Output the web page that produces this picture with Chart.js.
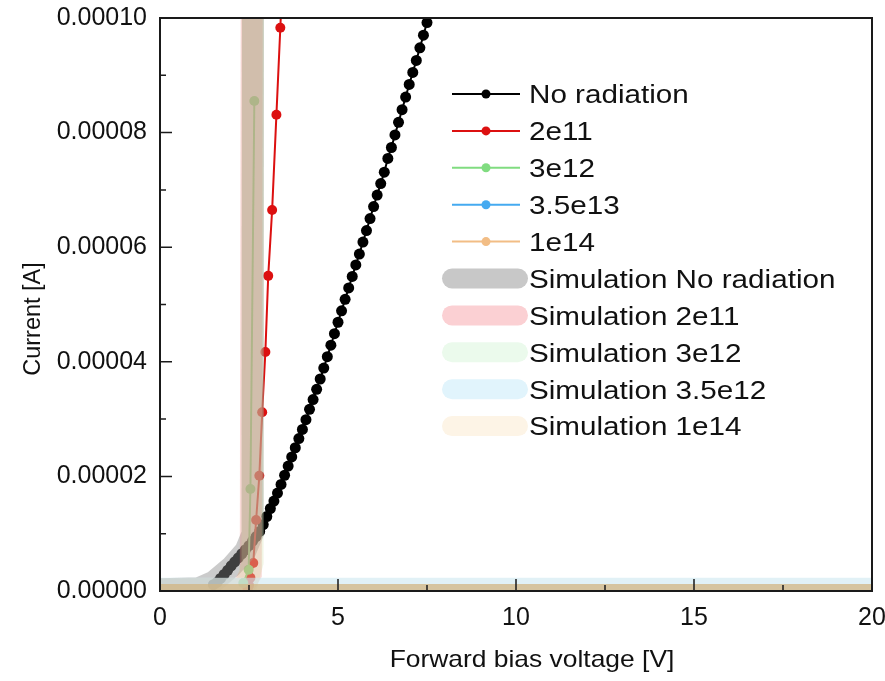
<!DOCTYPE html>
<html>
<head>
<meta charset="utf-8">
<title>Forward bias I-V</title>
<script src="https://cdn.jsdelivr.net/npm/chart.js@4.4.1/dist/chart.umd.min.js"></script>
<style>
  body { margin: 0; background: #fff; }
  canvas { display: block; }
</style>
</head>
<body>
<canvas id="ivChart" width="885" height="681"></canvas>
<script>
// Measured curves (voltage in V, current in microamps)
const voltNoRad = [1.5, 1.6, 1.7, 1.8, 1.9, 2.0, 2.1, 2.2, 2.3, 2.4,
                   2.5, 2.6, 2.7, 2.8, 2.9, 3.0, 3.1, 3.2, 3.3, 3.4,
                   3.5, 3.6, 3.7, 3.8, 3.9, 4.0, 4.1, 4.2, 4.3, 4.4,
                   4.5, 4.6, 4.7, 4.8, 4.9, 5.0, 5.1, 5.2, 5.3, 5.4,
                   5.5, 5.6, 5.7, 5.8, 5.9, 6.0, 6.1, 6.2, 6.3, 6.4,
                   6.5, 6.6, 6.7, 6.8, 6.9, 7.0, 7.1, 7.2, 7.3, 7.4, 7.5];
const currNoRad = [1.1, 1.5, 2.2, 2.9, 3.6, 4.4, 5.1, 5.8, 6.5, 7.2,
                   7.9, 8.7, 9.5, 10.4, 11.6, 13.0, 14.4, 15.7, 17.1, 18.6,
                   20.2, 21.8, 23.4, 25.0, 26.6, 28.2, 29.9, 31.7, 33.4, 35.2,
                   37.0, 38.9, 40.9, 42.9, 44.9, 46.9, 48.9, 50.9, 52.9, 54.9,
                   56.9, 58.8, 60.9, 62.9, 65.0, 67.1, 69.1, 71.1, 73.1, 75.5,
                   77.4, 79.6, 81.8, 84.0, 86.2, 88.4, 90.5, 92.6, 94.8, 97.0, 99.2];

const volt2e11 = [2.46, 2.50, 2.54, 2.62, 2.70, 2.79, 2.87, 2.96, 3.04, 3.15, 3.27, 3.38, 3.49];
const curr2e11 = [0.4, 1.0, 2.3, 4.9, 12.4, 20.1, 31.2, 41.7, 55.0, 66.5, 83.1, 98.3, 114.5];

const volt3e12 = [2.34, 2.49, 2.54, 2.65];
const curr3e12 = [1.4, 3.7, 17.8, 85.5];

const volt35e13 = [0, 5, 10, 15, 20];
const curr35e13 = [0, 0, 0, 0, 0];

const volt1e14 = [0, 5, 10, 15, 20];
const curr1e14 = [0, 0, 0, 0, 0];

// Simulated curves (voltage in V, current in microamps)
const simVoltNoRad = [0, 1.1, 1.5, 2.0, 2.4, 2.6, 2.62];
const simCurrNoRad = [0.3, 0.5, 1.6, 4.2, 7.0, 10.0, 200];
const simVolt2e11 = [0, 2.3, 2.55, 2.6];
const simCurr2e11 = [0.3, 0.4, 3.0, 200];
const simVolt3e12 = [0, 2.4, 2.6, 2.62];
const simCurr3e12 = [0.3, 0.4, 5.0, 200];
const simVolt35e12 = [0, 20];
const simCurr35e12 = [1.1, 1.1];
const simVolt1e14 = [0, 20];
const simCurr1e14 = [0, 0];

const FONT = 'Liberation Sans, Arial, sans-serif';

function pts(xs, ys) {
  return xs.map((x, i) => ({ x: x, y: ys[i] * 1e-6 }));
}

function measured(label, xs, ys, color, radius, order) {
  return {
    label, data: pts(xs, ys), showLine: true,
    borderColor: color, backgroundColor: color, borderWidth: 2,
    pointRadius: radius, pointHoverRadius: radius, pointBorderWidth: 0,
    order
  };
}

function simulated(label, xs, ys, color, swatch, width, order) {
  return {
    label, data: pts(xs, ys), showLine: true,
    borderColor: color, backgroundColor: color, borderWidth: width,
    pointRadius: 0, pointHoverRadius: 0, order, swatch
  };
}

// keep the plot box fixed: no extra room for overhanging tick labels
function fixBox(size) {
  return function (scale) {
    if (scale.isHorizontal()) scale.height = size; else scale.width = size;
    scale.paddingTop = scale.paddingBottom = 0;
    scale.paddingLeft = scale.paddingRight = 0;
  };
}

// legend drawn inside the plot, line+dot for data, fat bar for simulations
const legendRows = {
  id: 'legendRows',
  afterDraw(chart) {
    const ctx = chart.ctx;
    ctx.save();
    ctx.font = '26px ' + FONT;
    ctx.textBaseline = 'alphabetic';
    chart.data.datasets.forEach((ds, i) => {
      const y = 94 + i * 36.9;
      if (ds.swatch) {
        ctx.strokeStyle = ds.swatch;
        ctx.lineWidth = 20;
        ctx.lineCap = 'round';
        ctx.beginPath(); ctx.moveTo(452, y); ctx.lineTo(518, y); ctx.stroke();
      } else {
        ctx.strokeStyle = ds.borderColor;
        ctx.lineWidth = 2;
        ctx.lineCap = 'butt';
        ctx.beginPath(); ctx.moveTo(452, y); ctx.lineTo(520, y); ctx.stroke();
        ctx.fillStyle = ds.borderColor;
        ctx.beginPath(); ctx.arc(486, y, 4.5, 0, Math.PI * 2); ctx.fill();
      }
      ctx.fillStyle = '#111';
      ctx.save();
      ctx.translate(529, y + 9.3);
      ctx.scale(1.14, 1);
      ctx.fillText(ds.label, 0, 0);
      ctx.restore();
    });
    ctx.restore();
  }
};

// box frame, inward major/minor ticks and the two axis titles
const frameAndTicks = {
  id: 'frameAndTicks',
  afterDatasetsDraw(chart) {
    const { ctx, chartArea: a, scales: { x, y } } = chart;
    ctx.save();
    ctx.strokeStyle = '#1a1a1a';
    ctx.lineWidth = 1.5;
    ctx.beginPath();
    const xt = x.ticks.map(t => t.value);
    xt.forEach((v, i) => {
      const px = x.getPixelForValue(v);
      ctx.moveTo(px, a.bottom); ctx.lineTo(px, a.bottom - 12);
      if (i < xt.length - 1) {
        const mx = x.getPixelForValue((v + xt[i + 1]) / 2);
        ctx.moveTo(mx, a.bottom); ctx.lineTo(mx, a.bottom - 6);
      }
    });
    const yt = y.ticks.map(t => t.value);
    yt.forEach((v, i) => {
      const py = y.getPixelForValue(v);
      ctx.moveTo(a.left, py); ctx.lineTo(a.left + 12, py);
      if (i < yt.length - 1) {
        const my = y.getPixelForValue((v + yt[i + 1]) / 2);
        ctx.moveTo(a.left, my); ctx.lineTo(a.left + 6, my);
      }
    });
    ctx.stroke();
    ctx.lineWidth = 2;
    ctx.strokeRect(a.left, a.top, a.right - a.left, a.bottom - a.top);

    ctx.fillStyle = '#111';
    ctx.textAlign = 'center';
    ctx.textBaseline = 'alphabetic';
    ctx.font = '24px ' + FONT;
    ctx.save();
    ctx.translate(532, 667);
    ctx.scale(1.1, 1);
    ctx.fillText('Forward bias voltage [V]', 0, 0);
    ctx.restore();
    ctx.font = '23.5px ' + FONT;
    ctx.save();
    ctx.translate(40, 319);
    ctx.rotate(-Math.PI / 2);
    ctx.fillText('Current [A]', 0, 0);
    ctx.restore();
    ctx.restore();
  }
};

new Chart(document.getElementById('ivChart'), {
  type: 'scatter',
  data: {
    datasets: [
      measured('No radiation', voltNoRad, currNoRad, '#000000', 5.5, 9),
      measured('2e11', volt2e11, curr2e11, '#dc1010', 5, 8),
      measured('3e12', volt3e12, curr3e12, '#80dc80', 5, 7),
      measured('3.5e13', volt35e13, curr35e13, '#45aaf0', 0, 6),
      measured('1e14', volt1e14, curr1e14, '#f2bd85', 0, 5),
      simulated('Simulation No radiation', simVoltNoRad, simCurrNoRad, 'rgba(140,140,140,0.45)', '#c8c8c8', 22, 4),
      simulated('Simulation 2e11', simVolt2e11, simCurr2e11, 'rgba(235,140,130,0.32)', '#fbd0d3', 22, 3),
      simulated('Simulation 3e12', simVolt3e12, simCurr3e12, 'rgba(200,215,150,0.25)', '#ebfaec', 22, 2),
      simulated('Simulation 3.5e12', simVolt35e12, simCurr35e12, 'rgba(205,232,240,0.6)', '#e1f4fc', 14, 1),
      simulated('Simulation 1e14', simVolt1e14, simCurr1e14, 'rgba(210,180,130,0.75)', '#fdf4e6', 14, 0)
    ]
  },
  options: {
    responsive: false,
    animation: false,
    devicePixelRatio: 1,
    layout: { padding: { left: 0, right: 13, top: 18, bottom: 0 } },
    plugins: { legend: { display: false }, tooltip: { enabled: false } },
    scales: {
      x: {
        type: 'linear', min: 0, max: 20,
        grid: { display: false, drawTicks: false },
        border: { display: false },
        ticks: { stepSize: 5, padding: 12, color: '#111', font: { family: FONT, size: 25 } },
        afterFit: fixBox(90)
      },
      y: {
        type: 'linear', min: 0, max: 0.0001,
        grid: { display: false, drawTicks: false },
        border: { display: false },
        ticks: {
          stepSize: 0.00002, padding: 13, color: '#111',
          font: { family: FONT, size: 25 },
          callback: v => v.toFixed(5)
        },
        afterFit: fixBox(160)
      }
    }
  },
  plugins: [frameAndTicks, legendRows]
});
</script>
</body>
</html>
